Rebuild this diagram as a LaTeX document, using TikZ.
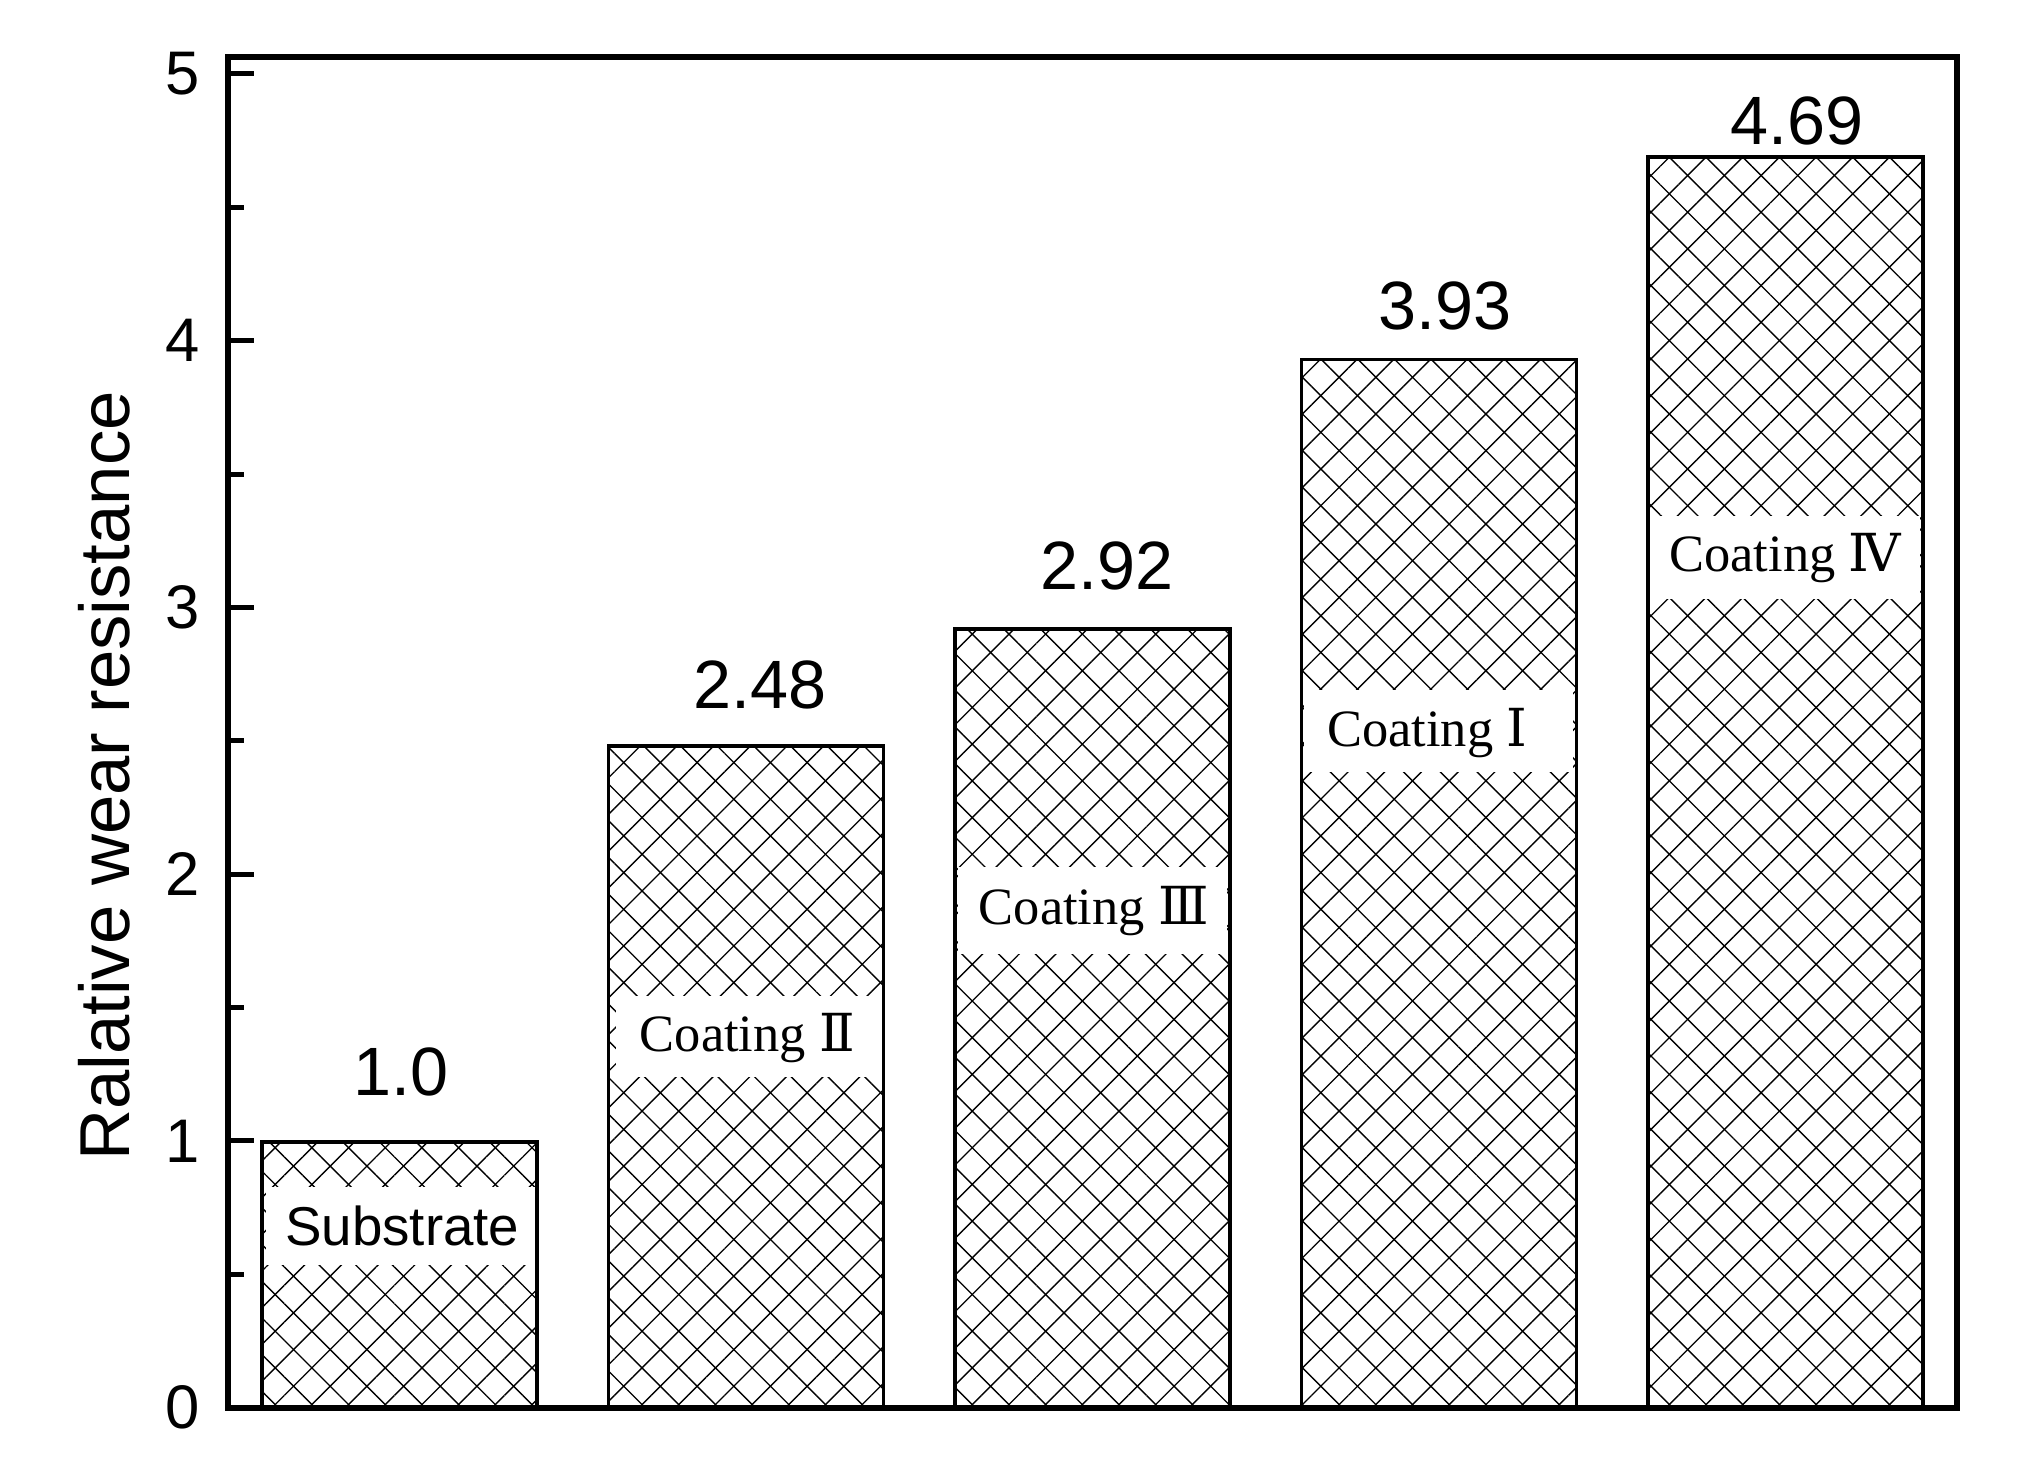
\documentclass[tikz,border=0pt]{standalone}
\usepackage{fontspec}
\setmainfont{Liberation Sans}
\newfontfamily\tnr{Liberation Serif}
\newfontfamily\rmn{DejaVu Serif}
\usetikzlibrary{patterns.meta}
\tikzset{
  bar/.style={draw=black,line width=1.6pt,
    postaction={pattern={Lines[angle=45,distance=0.4cm,line width=0.6pt]}},
    postaction={pattern={Lines[angle=-45,distance=0.4cm,line width=0.6pt]}}},
  lbox/.style={fill=white,draw=none},
  val/.style={font=\fontsize{30}{34}\selectfont},
  tick/.style={font=\fontsize{27}{30}\selectfont,anchor=east},
  clab/.style={font=\tnr\fontsize{23}{26}\selectfont},
}
\begin{document}
\begin{tikzpicture}[x=0.02cm,y=-0.02cm]
\useasboundingbox (0,0) rectangle (1560,1125);
% bars
\foreach \xa/\top in {202/880, 469/575, 736/485, 1003/277, 1270/121}{
  \draw[bar] (\xa,1085) rectangle (\xa+212,\top);
}
\fill[lbox] (205,915) rectangle (412,975);
\fill[lbox] (475,768) rectangle (680,830);
\fill[lbox] (738,668) rectangle (946,735);
\fill[lbox] (1005,532) rectangle (1212,595);
\fill[lbox] (1272,398) rectangle (1480,462);
\node[font=\fontsize{24}{28}\selectfont] (s) at (310,945) {Substrate};
\node[clab] (c2) at (576,800) {Coating {\rmn Ⅱ}};
\node[clab] (c3) at (843,702) {Coating {\rmn Ⅲ}};
\node[clab] (c1) at (1100,565) {Coating {\rmn Ⅰ}};
\node[clab] (c4) at (1376,430) {Coating {\rmn Ⅳ}};
% values
\node[val] (v1) at (309,826) {1.0};
\node[val] (v2) at (586,528) {2.48};
\node[val] (v3) at (853,436) {2.92};
\node[val] (v4) at (1114,236) {3.93};
\node[val] (v5) at (1385,93) {4.69};
% axes
\draw[line width=2.6pt] (176,44) rectangle (1508,1085);
\foreach \i in {0,...,5}{
  \draw[line width=2.2pt] (176,1085-205.6*\i) -- (196,1085-205.6*\i);
  \node[tick] at (160,1085-205.6*\i) {\i};
}
\foreach \i in {0,...,4}{
  \draw[line width=2.2pt] (176,1085-205.6*\i-102.8) -- (188,1085-205.6*\i-102.8);
}
\node[rotate=90,font=\fontsize{31}{34}\selectfont] (yl) at (80,598) {Ralative wear resistance};
\end{tikzpicture}
\end{document}
